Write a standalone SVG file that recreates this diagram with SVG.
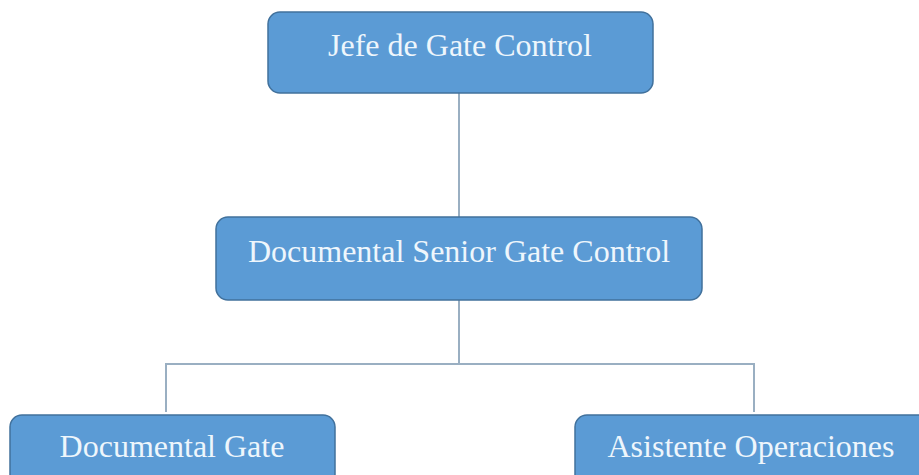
<svg xmlns="http://www.w3.org/2000/svg" width="919" height="475" viewBox="0 0 919 475">
  <style>
    .box { fill: #5B9BD5; stroke: #41719C; stroke-width: 1.5; }
    .label { font-family: "Liberation Serif", "Times New Roman", serif; font-size: 32px; fill: #EEF6FC; text-anchor: middle; }
    .link { fill: none; stroke: #9AAFC2; stroke-width: 2; }
  </style>
  <rect width="919" height="475" fill="#FFFFFF"/>

  <!-- connectors -->
  <g id="connectors">
    <line class="link" x1="459" y1="93" x2="459" y2="217"/>
    <line class="link" x1="459" y1="300" x2="459" y2="364"/>
    <polyline class="link" points="166,412 166,364 754,364 754,412"/>
  </g>

  <g id="node-jefe">
    <rect class="box" x="268" y="12" width="385" height="81" rx="12"/>
    <text class="label" x="460" y="56">Jefe de Gate Control</text>
  </g>

  <g id="node-senior">
    <rect class="box" x="216" y="217" width="486" height="83" rx="12"/>
    <text class="label" x="459" y="262">Documental Senior Gate Control</text>
  </g>

  <g id="node-documental">
    <rect class="box" x="10" y="415" width="325" height="80" rx="12"/>
    <text class="label" x="172" y="457">Documental Gate</text>
  </g>

  <g id="node-asistente">
    <rect class="box" x="575" y="415" width="360" height="80" rx="12"/>
    <text class="label" x="751" y="457">Asistente Operaciones</text>
  </g>
</svg>
